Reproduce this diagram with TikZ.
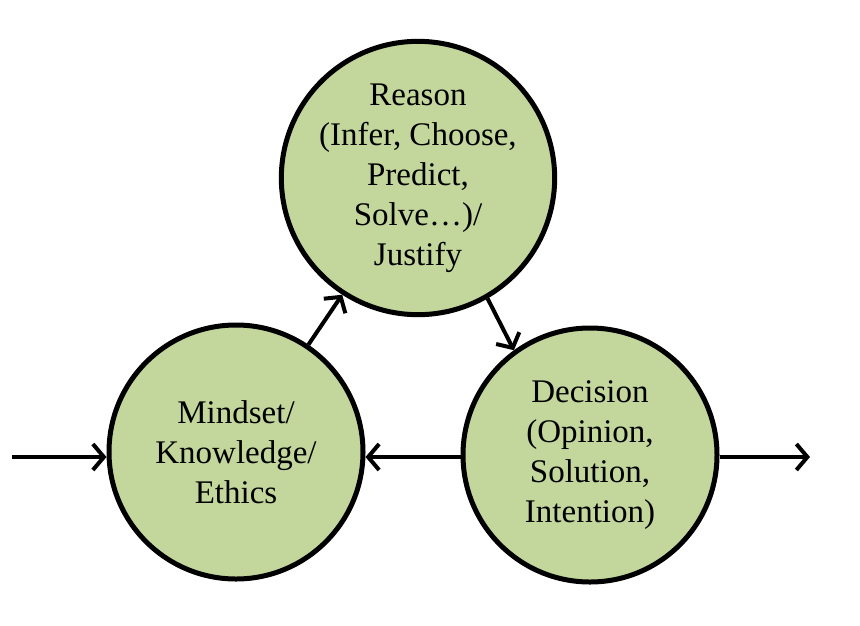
\documentclass[tikz,border=0pt]{standalone}
\usepackage{fontspec}
\setmainfont{Liberation Serif}
\usetikzlibrary{arrows.meta}
\definecolor{circfill}{HTML}{C3D69B}
\tikzset{
  bubble/.style={circle, draw=black, line width=5pt, fill=circfill, minimum size=254pt, inner sep=0pt, align=center, font=\fontsize{33}{40}\selectfont},
  conn/.style={line width=4pt, -{Straight Barb[length=11pt, width=26pt, line width=4pt]}}
}
\begin{document}
\begin{tikzpicture}[x=1pt, y=-1pt]
\useasboundingbox (0,0) rectangle (860,625);
\node[bubble] (R) at (418,178) {Reason\\(Infer, Choose,\\Predict,\\Solve…)/\\Justify};
\node[bubble] (M) at (236,452) {Mindset/\\Knowledge/\\Ethics};
\node[bubble] (D) at (590,455) {Decision\\(Opinion,\\Solution,\\Intention)};
\coordinate (inS) at (12,457);
\coordinate (outE) at (810,457);
\draw[conn] (inS) -- (M.west |- inS);
\draw[conn] (D.east |- outE) -- (outE);
\draw[conn] (D.west |- inS) -- (M.east |- inS);
\draw[conn] (M.56) -- (R.237);
\draw[conn] (R.-60) -- (D.126);
\end{tikzpicture}
\end{document}
